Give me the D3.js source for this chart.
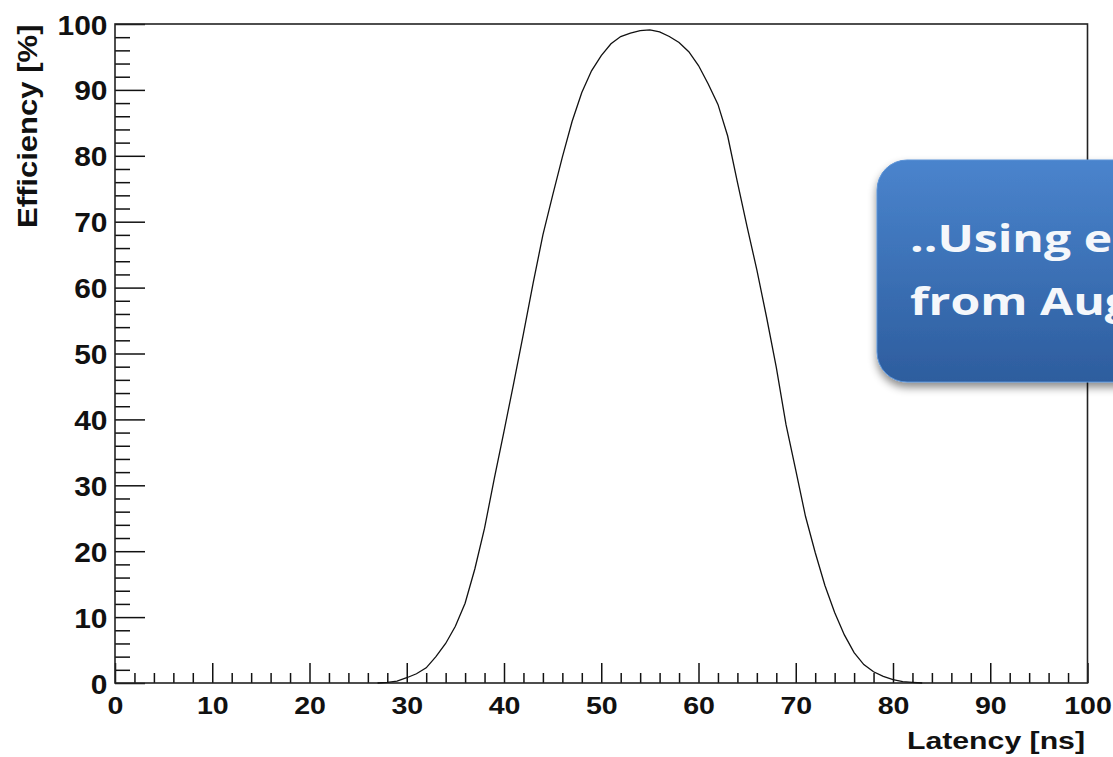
<!DOCTYPE html>
<html>
<head>
<meta charset="utf-8">
<script src="https://cdn.jsdelivr.net/npm/d3@7"></script>
<style>
	body { margin: 0; background: #fff; }
	svg { display: block; }
	.axis text { font-family: "Liberation Sans", Arial, sans-serif; font-weight: bold; fill: #111; }
	.axis line { stroke: #111; stroke-width: 1.5; }
	.axis path { display: none; }
</style>
</head>
<body>
<svg id="chart" width="1113" height="757"></svg>
<script>
// efficiency vs latency (1 ns steps)
const latencyNs = [27, 28, 29, 30, 31, 32, 33, 34, 35, 36, 37, 38, 39, 40, 41, 42, 43, 44, 45, 46,
	47, 48, 49, 50, 51, 52, 53, 54, 55, 56, 57, 58, 59, 60, 61, 62, 63, 64, 65, 66,
	67, 68, 69, 70, 71, 72, 73, 74, 75, 76, 77, 78, 79, 80, 81, 82, 83];
const efficiencyPct = [0, 0.1, 0.3, 0.8, 1.4, 2.3, 4.0, 6.0, 8.6, 12.1, 17.3, 23.5, 31.0, 38.2, 45.5, 53.0, 60.7, 68.0, 74.0, 79.8,
	85.2, 89.6, 92.9, 95.2, 97.0, 98.1, 98.6, 99.0, 99.1, 98.8, 98.1, 97.2, 95.8, 93.7, 90.9, 87.8, 83.0, 76.0, 69.2, 62.7,
	55.5, 47.9, 39.2, 32.3, 25.3, 19.8, 14.8, 10.7, 7.3, 4.6, 2.8, 1.7, 1.0, 0.5, 0.2, 0.1, 0];

const xMajorTicks = [0, 10, 20, 30, 40, 50, 60, 70, 80, 90, 100];
const yMajorTicks = [0, 10, 20, 30, 40, 50, 60, 70, 80, 90, 100];
const minorTicks = d3.range(0, 101, 2).filter(v => v % 10 != 0);

const xTitle = "Latency [ns]";
const yTitle = "Efficiency [%]";
const calloutLines = ["..Using e", "from Aug"];

let svg = d3.select("#chart");
let frame = { left: 115, right: 1087.5, top: 24, bottom: 683 };

let x = d3.scaleLinear().domain([0, 100]).range([frame.left, frame.right]);
let y = d3.scaleLinear().domain([0, 100]).range([frame.bottom, frame.top]);

/* ------------------------ axes ------------------------ */

// ticks point into the plot, like ROOT
svg.append("g")
	.attr("class", "axis")
	.attr("transform", "translate(0," + frame.bottom + ")")
	.call(d3.axisBottom(x).tickValues(minorTicks).tickSizeInner(-10).tickSizeOuter(0).tickFormat(""));

svg.append("g")
	.attr("class", "axis x-major")
	.attr("transform", "translate(0," + frame.bottom + ")")
	.call(d3.axisBottom(x).tickValues(xMajorTicks).tickSizeInner(-20).tickSizeOuter(0).tickPadding(14));

svg.append("g")
	.attr("class", "axis")
	.attr("transform", "translate(" + frame.left + ",0)")
	.call(d3.axisLeft(y).tickValues(minorTicks).tickSizeInner(-15).tickSizeOuter(0).tickFormat(""));

svg.append("g")
	.attr("class", "axis y-major")
	.attr("transform", "translate(" + frame.left + ",0)")
	.call(d3.axisLeft(y).tickValues(yMajorTicks).tickSizeInner(-30).tickSizeOuter(0).tickPadding(7));

svg.selectAll(".x-major text")
	.attr("font-size", 24)
	.attr("transform", "scale(1.19,1)");

svg.selectAll(".y-major text")
	.attr("font-size", 28)
	.attr("dy", "0.36em")
	.attr("transform", "scale(1.07,1)");

// frame
svg.append("rect")
	.attr("x", frame.left)
	.attr("y", frame.top)
	.attr("width", frame.right - frame.left)
	.attr("height", frame.bottom - frame.top)
	.attr("fill", "none")
	.attr("stroke", "#222")
	.attr("stroke-width", 1.6);

// titles
svg.append("g")
	.attr("transform", "translate(1085,749) scale(1.26,1)")
	.append("text")
	.attr("text-anchor", "end")
	.attr("font-family", "Liberation Sans, Arial, sans-serif")
	.attr("font-weight", "bold")
	.attr("font-size", 24)
	.attr("fill", "#111")
	.text(xTitle);

svg.append("g")
	.attr("transform", "translate(37,228) rotate(-90) scale(1.15,1)")
	.append("text")
	.attr("font-family", "Liberation Sans, Arial, sans-serif")
	.attr("font-weight", "bold")
	.attr("font-size", 27)
	.attr("fill", "#111")
	.text(yTitle);

/* ------------------------ curve ----------------------- */

let points = latencyNs.map((v, i) => [v, efficiencyPct[i]]);

svg.append("path")
	.datum(points)
	.attr("fill", "none")
	.attr("stroke", "#111")
	.attr("stroke-width", 1.3)
	.attr("d", d3.line().x(d => x(d[0])).y(d => y(d[1])));

/* ----------------------- callout ---------------------- */

let defs = svg.append("defs");
let grad = defs.append("linearGradient")
	.attr("id", "boxGrad")
	.attr("x1", 0).attr("y1", 0).attr("x2", 0).attr("y2", 1);
grad.append("stop").attr("offset", "0%").attr("stop-color", "#4a84cd");
grad.append("stop").attr("offset", "100%").attr("stop-color", "#2d5d9e");

let shadow = defs.append("filter")
	.attr("id", "boxShadow")
	.attr("x", "-20%").attr("y", "-20%").attr("width", "140%").attr("height", "150%");
shadow.append("feDropShadow")
	.attr("dx", 0).attr("dy", 5)
	.attr("stdDeviation", 4)
	.attr("flood-color", "#000")
	.attr("flood-opacity", 0.45);

svg.append("rect")
	.attr("x", 877)
	.attr("y", 160)
	.attr("width", 320)
	.attr("height", 222)
	.attr("rx", 30)
	.attr("fill", "url(#boxGrad)")
	.attr("stroke", "#5a92d6")
	.attr("stroke-width", 1)
	.attr("filter", "url(#boxShadow)");

// text runs past the right edge, as in the slide it was taken from
svg.append("g")
	.attr("transform", "translate(910,0) scale(1.3,1)")
	.selectAll("text")
	.data(calloutLines)
	.enter().append("text")
	.attr("x", 0)
	.attr("y", (d, i) => 252 + i * 63)
	.attr("font-family", "Open Sans, sans-serif")
	.attr("font-weight", "bold")
	.attr("font-size", 37)
	.attr("fill", "#f4f7fb")
	.text(d => d);
</script>
</body>
</html>
